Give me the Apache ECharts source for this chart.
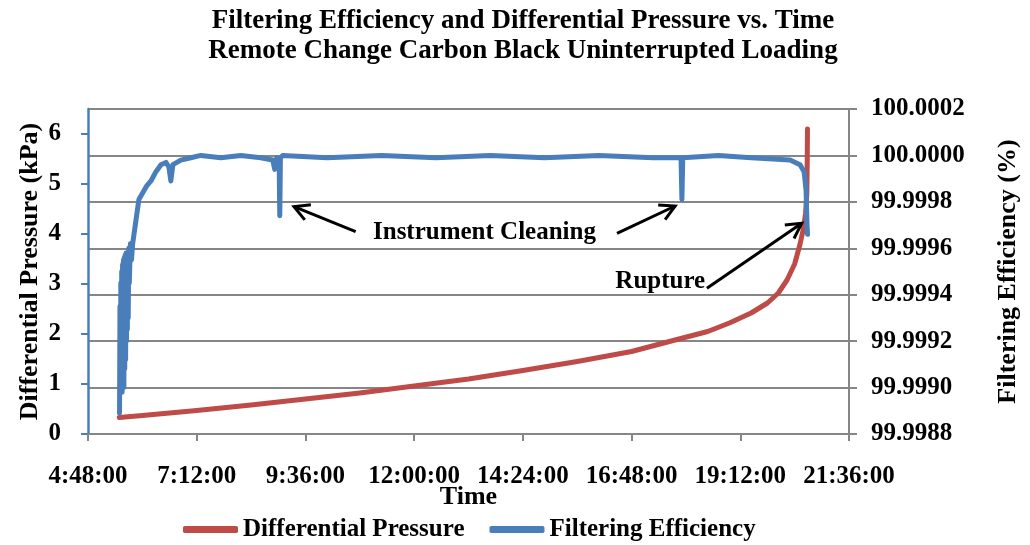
<!DOCTYPE html>
<html>
<head>
<meta charset="utf-8">
<script src="https://cdn.jsdelivr.net/npm/echarts@6/dist/echarts.min.js"></script>
<style>
  html, body { margin: 0; padding: 0; background: #fff; }
  #chart { width: 1030px; height: 545px; }
</style>
</head>
<body>
<div id="chart"></div>
<script>
// Time is stored as a fraction of a day (0.5 = 12:00:00).
const pressureTime = [
  0.2288, 0.2500, 0.3000, 0.3500, 0.4000, 0.4500, 0.5000, 0.5500, 0.6000,
  0.6500, 0.7000, 0.7400, 0.7700, 0.7900, 0.8100, 0.8250, 0.8350, 0.8430,
  0.8500, 0.8550, 0.8580, 0.8600, 0.8612, 0.8616, 0.8618
];
const pressureKPa = [
  0.33, 0.37, 0.47, 0.58, 0.70, 0.82, 0.96, 1.10, 1.27,
  1.45, 1.65, 1.88, 2.05, 2.22, 2.42, 2.62, 2.82, 3.08,
  3.40, 3.80, 4.10, 4.40, 4.80, 5.50, 6.10
];

const efficiencyTime = [
  0.2290, 0.2294, 0.2298, 0.2302, 0.2306, 0.2310, 0.2314, 0.2318, 0.2322,
  0.2326, 0.2330, 0.2334, 0.2338, 0.2342, 0.2346, 0.2350, 0.2354, 0.2358,
  0.2362, 0.2366, 0.2370, 0.2375, 0.2380, 0.2390, 0.2400, 0.2411, 0.2423,
  0.2441, 0.2468, 0.2505, 0.2542, 0.2579, 0.2625, 0.2671, 0.2717, 0.2744,
  0.2762, 0.2781, 0.2854, 0.2946, 0.3038, 0.3222, 0.3405, 0.3589, 0.3699,
  0.3718, 0.3736, 0.3758, 0.3764, 0.3770, 0.3791, 0.4200, 0.4700, 0.5200,
  0.5700, 0.6200, 0.6700, 0.7200, 0.7455, 0.7463, 0.7471, 0.7800, 0.8100,
  0.8458, 0.8550, 0.8587, 0.8605, 0.8614, 0.8619
];
const efficiencyPct = [
  99.99889, 99.99935, 99.99900, 99.99945, 99.99903, 99.99950, 99.99898, 99.99953, 99.99905,
  99.99955, 99.99900, 99.99956, 99.99908, 99.99957, 99.99912, 99.99958, 99.99920, 99.99958,
  99.99925, 99.99958, 99.99930, 99.99960, 99.99945, 99.99962, 99.99955, 99.99962, 99.99966,
  99.99972, 99.99981, 99.99984, 99.99987, 99.99989, 99.99993, 99.99996, 99.99997, 99.99995,
  99.99989, 99.99996, 99.99998, 99.99999, 100.00000, 99.99999, 100.00000, 99.99999, 99.99998,
  99.99994, 99.99999, 99.99998, 99.99974, 99.99999, 100.00000, 99.99999, 100.00000, 99.99999,
  100.00000, 99.99999, 100.00000, 99.99999, 99.99999, 99.99981, 99.99999, 100.00000, 99.99999,
  99.99998, 99.99996, 99.99993, 99.99985, 99.99970, 99.99966
];

const pressureTicks = [0, 1, 2, 3, 4, 5, 6];

// Callouts, placed in (time, kPa) coordinates.
const calloutLabels = [
  { text: 'Instrument Cleaning', at: [0.5647, 4.02] },
  { text: 'Rupture', at: [0.7264, 3.04] }
];
const calloutArrows = [
  { from: [0.4462, 4.046], to: [0.3895, 4.546] },
  { from: [0.6866, 4.014], to: [0.7401, 4.560] },
  { from: [0.7693, 2.914], to: [0.8565, 4.214] }
];

const FONT = '"Liberation Serif", "Times New Roman", serif';
const GRID_GREY = '#868686';
const RED = '#be4b48';
const BLUE = '#4a7ebb';

function formatTime(day) {
  const s = Math.round(day * 86400);
  const h = Math.floor(s / 3600);
  const m = Math.floor((s % 3600) / 60);
  const sec = s % 60;
  return h + ':' + String(m).padStart(2, '0') + ':' + String(sec).padStart(2, '0');
}

const pressureData = pressureTime.map((t, i) => [t, pressureKPa[i]]);
const efficiencyData = efficiencyTime.map((t, i) => [t, efficiencyPct[i]]);

const labelStyle = { fontFamily: FONT, fontWeight: 'bold', fontSize: 25, color: '#000' };
const nameStyle = { fontFamily: FONT, fontWeight: 'bold', fontSize: 26, color: '#000' };

const chart = echarts.init(document.getElementById('chart'), null, { renderer: 'canvas' });

chart.setOption({
  animation: false,
  backgroundColor: '#fff',
  title: {
    text: 'Filtering Efficiency and Differential Pressure vs. Time\nRemote Change Carbon Black Uninterrupted Loading',
    left: 523,
    top: 6,
    padding: 0,
    textAlign: 'center',
    textStyle: { fontFamily: FONT, fontWeight: 'bold', fontSize: 27, lineHeight: 30, color: '#000' }
  },
  grid: { left: 88, right: 181, top: 109, bottom: 111, containLabel: false, outerBoundsMode: 'none' },
  legend: {
    data: ['Differential Pressure', 'Filtering Efficiency'],
    left: 178,
    top: 512,
    icon: 'roundRect',
    itemWidth: 55,
    itemHeight: 7,
    itemGap: 25,
    textStyle: labelStyle
  },
  xAxis: {
    type: 'value',
    min: 0.2,
    max: 0.9,
    interval: 0.1,
    name: 'Time',
    nameLocation: 'middle',
    nameGap: 50,
    nameMoveOverlap: false,
    nameTextStyle: nameStyle,
    axisLine: { show: true, lineStyle: { color: GRID_GREY, width: 2 } },
    axisTick: { show: true, length: 7, lineStyle: { color: GRID_GREY, width: 2 } },
    axisLabel: { margin: 30, formatter: formatTime, ...labelStyle },
    splitLine: { show: false }
  },
  yAxis: [
    {
      type: 'value',
      position: 'left',
      min: 0,
      max: 6.5,
      interval: 1,
      name: 'Differential Pressure (kPa)',
      nameLocation: 'middle',
      nameRotate: 90,
      nameGap: 45,
      nameMoveOverlap: false,
      nameTextStyle: nameStyle,
      axisLine: { show: true, lineStyle: { color: BLUE, width: 2.5 } },
      axisTick: { show: true, length: 7, customValues: pressureTicks, lineStyle: { color: BLUE, width: 2 } },
      axisLabel: { margin: 27, customValues: pressureTicks, ...labelStyle },
      splitLine: { show: false }
    },
    {
      type: 'value',
      position: 'right',
      min: 99.9988,
      max: 100.0002,
      interval: 0.0002,
      name: 'Filtering Efficiency (%)',
      nameLocation: 'middle',
      nameRotate: 90,
      nameGap: 146,
      nameMoveOverlap: false,
      nameTextStyle: nameStyle,
      axisLine: { show: true, lineStyle: { color: GRID_GREY, width: 2 } },
      axisTick: { show: true, length: 8, lineStyle: { color: GRID_GREY, width: 2 } },
      axisLabel: { margin: 22, formatter: v => v.toFixed(4), ...labelStyle },
      splitLine: { show: true, lineStyle: { color: GRID_GREY, width: 2 } }
    }
  ],
  series: [
    {
      name: 'Differential Pressure',
      type: 'line',
      yAxisIndex: 0,
      data: pressureData,
      showSymbol: false,
      symbol: 'none',
      color: RED,
      lineStyle: { color: RED, width: 5, cap: 'round', join: 'round' },
      z: 2
    },
    {
      name: 'Filtering Efficiency',
      type: 'line',
      yAxisIndex: 1,
      data: efficiencyData,
      showSymbol: false,
      symbol: 'none',
      color: BLUE,
      lineStyle: { color: BLUE, width: 5, cap: 'round', join: 'round' },
      z: 3
    }
  ]
});

// Callout text and arrows, converted from data space to pixels.
function toPx(p) {
  return chart.convertToPixel({ xAxisIndex: 0, yAxisIndex: 0 }, p);
}

const graphics = [];
calloutLabels.forEach(c => {
  const [x, y] = toPx(c.at);
  graphics.push({
    type: 'text',
    x, y,
    z: 10,
    style: {
      text: c.text,
      font: 'bold 25px ' + FONT,
      fill: '#000',
      align: 'center',
      verticalAlign: 'middle'
    }
  });
});
calloutArrows.forEach(a => {
  const [x1, y1] = toPx(a.from);
  const [x2, y2] = toPx(a.to);
  const ang = Math.atan2(y2 - y1, x2 - x1);
  const headLen = 17, spread = 0.5;
  const hx1 = x2 - headLen * Math.cos(ang - spread);
  const hy1 = y2 - headLen * Math.sin(ang - spread);
  const hx2 = x2 - headLen * Math.cos(ang + spread);
  const hy2 = y2 - headLen * Math.sin(ang + spread);
  graphics.push({
    type: 'line', z: 10,
    shape: { x1, y1, x2, y2 },
    style: { stroke: '#000', lineWidth: 3 }
  });
  graphics.push({
    type: 'polyline', z: 10,
    shape: { points: [[hx1, hy1], [x2, y2], [hx2, hy2]] },
    style: { stroke: '#000', lineWidth: 3, fill: null, lineJoin: 'miter' }
  });
});
chart.setOption({ graphic: graphics });
</script>
</body>
</html>
